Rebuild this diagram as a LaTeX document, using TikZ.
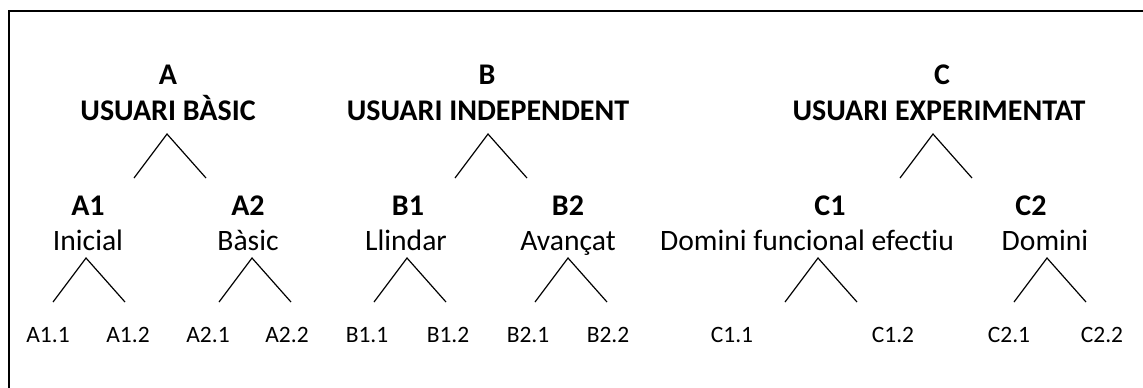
\documentclass[tikz,border=0pt]{standalone}
\usepackage{fontspec}
\setmainfont{Carlito}[Ligatures=NoCommon]
\begin{document}
\begin{tikzpicture}[x=0.75pt,y=-0.75pt,
    level/.style={font=\bfseries\fontsize{22.5}{26}\selectfont, anchor=base, inner sep=0pt},
    title/.style={font=\fontsize{22.2}{26}\selectfont, anchor=base, inner sep=0pt},
    leaf/.style={font=\fontsize{17.6}{21}\selectfont, anchor=base, inner sep=0pt},
    branch/.style={line width=0.9pt}]
    \useasboundingbox (0,0) rectangle (1143,387);

    % Frame (right and bottom edges lie outside the picture)
    \draw[line width=1.5pt] (9,420) -- (9,11) -- (1180,11);

    % Top level
    \node[level] (A) at (168,84) {A};
    \node[level] (Aname) at (168,120) {USUARI BÀSIC};
    \node[level] (B) at (487,84) {B};
    \node[level] (Bname) at (488,120) {USUARI INDEPENDENT};
    \node[level] (C) at (942,84) {C};
    \node[level] (Cname) at (939,120) {USUARI EXPERIMENTAT};

    % Second level
    \node[level] (A1) at (88,215) {A1};
    \node[title] (A1name) at (88,250) {Inicial};
    \node[level] (A2) at (248,215) {A2};
    \node[title] (A2name) at (248,250) {Bàsic};
    \node[level] (B1) at (408,215) {B1};
    \node[title] (B1name) at (406,250) {Llindar};
    \node[level] (B2) at (568,215) {B2};
    \node[title] (B2name) at (568,250) {Avançat};
    \node[level] (C1) at (830,215) {C1};
    \node[title] (C1name) at (807,250) {Domini funcional efectiu};
    \node[level] (C2) at (1031,215) {C2};
    \node[title] (C2name) at (1045,250) {Domini};

    % Leaves
    \foreach \nm/\x in {A1.1/48, A1.2/128, A2.1/208, A2.2/287,
                        B1.1/367, B1.2/448, B2.1/528, B2.2/608,
                        C1.1/732, C1.2/893, C2.1/1009, C2.2/1102} {
        \node[leaf] (leaf\nm) at (\x,342) {\nm};
    }

    % Branches
    \foreach \nm/\x/\y in {A/167/134, B/488/134, C/933/134,
                           A1/86/258, A2/252/258, B1/407/258,
                           B2/568/258, C1/818/258, C2/1047/258} {
        \coordinate (\nm-top) at (\x,\y);
        \coordinate (\nm-l) at (\x-33,\y+44);
        \coordinate (\nm-r) at (\x+39,\y+44);
        \draw[branch] (\nm-l) -- (\nm-top) -- (\nm-r);
    }
\end{tikzpicture}
\end{document}
